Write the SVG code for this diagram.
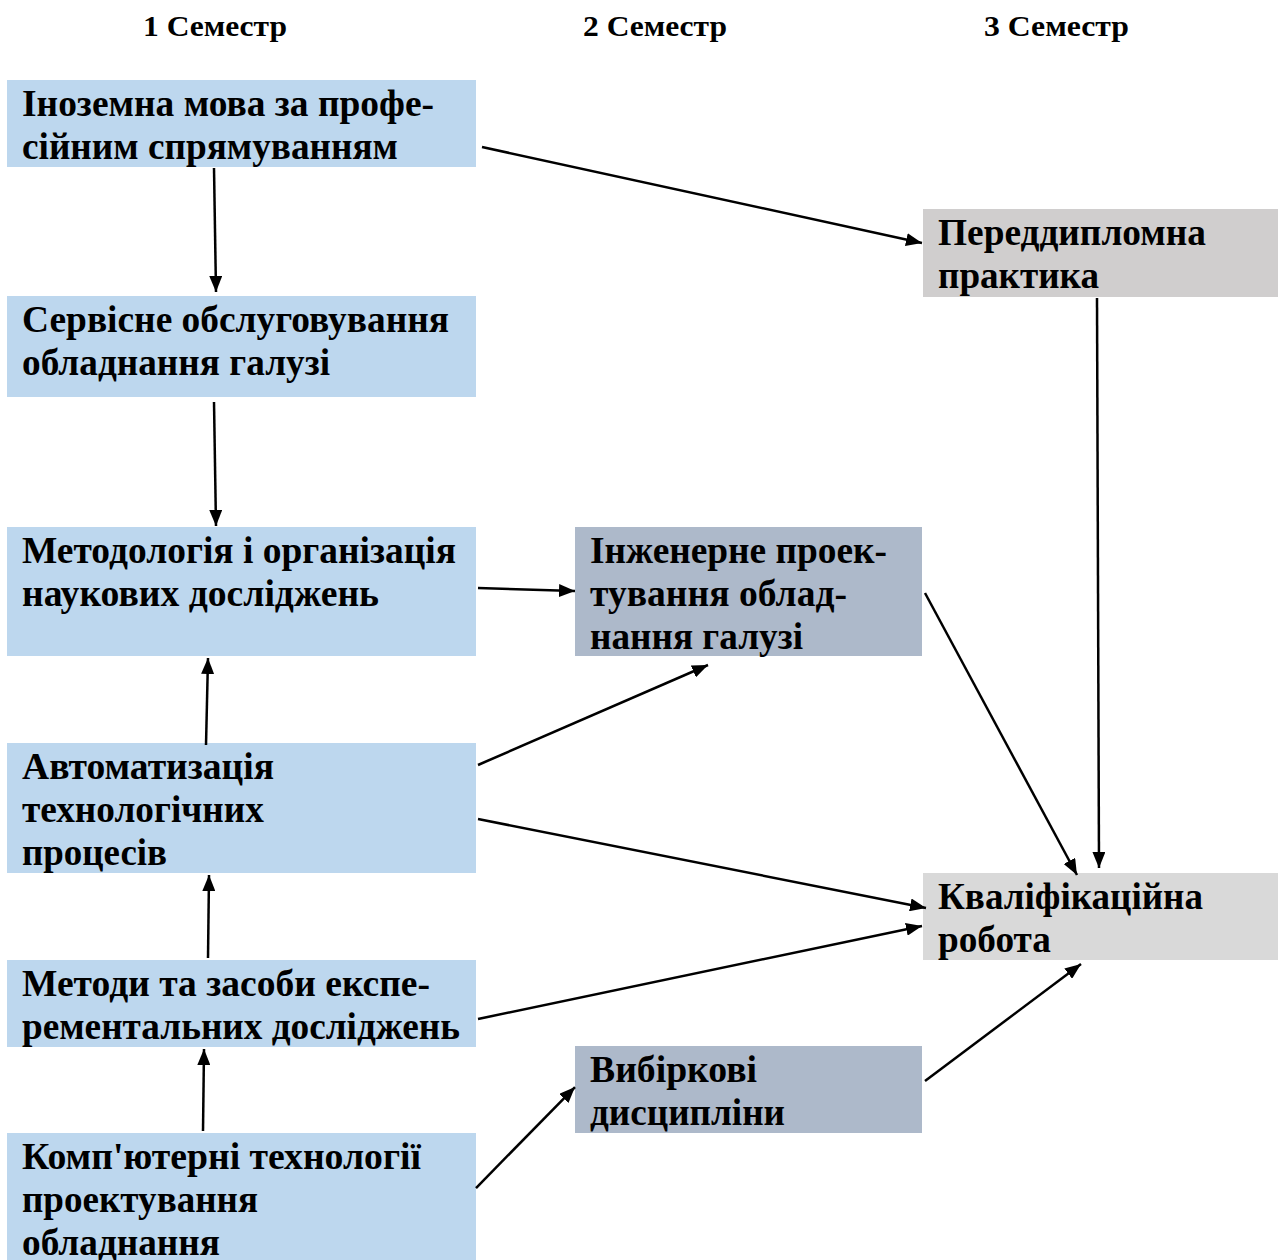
<svg xmlns="http://www.w3.org/2000/svg" width="1279" height="1260" viewBox="0 0 1279 1260">
<style>
text{font-family:"Liberation Serif","Times New Roman",serif;font-weight:bold;fill:#000}
.t{font-size:37px}
.h{font-size:30px}
.c1{fill:#BDD7EE}
.c2{fill:#ADB9CA}
.c3{fill:#D0CECE}
.c4{fill:#D9D9D9}
.ln{stroke:#000;stroke-width:2.5;fill:none;marker-end:url(#ah)}
</style>
<defs>
<marker id="ah" markerUnits="userSpaceOnUse" markerWidth="17" markerHeight="13" refX="16" refY="6.5" orient="auto">
<path d="M0,0 L16,6.5 L0,13 z" fill="#000"/>
</marker>
</defs>
<rect width="1279" height="1260" fill="#fff"/>
<g id="headers">
<text class="h" x="143" y="36" textLength="144" lengthAdjust="spacingAndGlyphs">1 Семестр</text>
<text class="h" x="583" y="36" textLength="144" lengthAdjust="spacingAndGlyphs">2 Семестр</text>
<text class="h" x="984" y="36" textLength="145" lengthAdjust="spacingAndGlyphs">3 Семестр</text>
</g>
<g id="n1">
<rect class="c1" x="7" y="80" width="469" height="87"/>
<text class="t" x="22" y="116" textLength="412" lengthAdjust="spacingAndGlyphs">Іноземна мова за профе-</text>
<text class="t" x="22" y="159" textLength="376" lengthAdjust="spacingAndGlyphs">сійним спрямуванням</text>
</g>
<g id="n2">
<rect class="c1" x="7" y="296" width="469" height="101"/>
<text class="t" x="22" y="332" textLength="427" lengthAdjust="spacingAndGlyphs">Сервісне обслуговування</text>
<text class="t" x="22" y="375" textLength="308" lengthAdjust="spacingAndGlyphs">обладнання галузі</text>
</g>
<g id="n3">
<rect class="c1" x="7" y="527" width="469" height="129"/>
<text class="t" x="22" y="563" textLength="434" lengthAdjust="spacingAndGlyphs">Методологія і організація</text>
<text class="t" x="22" y="606" textLength="357" lengthAdjust="spacingAndGlyphs">наукових досліджень</text>
</g>
<g id="n4">
<rect class="c1" x="7" y="743" width="469" height="130"/>
<text class="t" x="22" y="779" textLength="252" lengthAdjust="spacingAndGlyphs">Автоматизація</text>
<text class="t" x="22" y="822" textLength="242" lengthAdjust="spacingAndGlyphs">технологічних</text>
<text class="t" x="22" y="865" textLength="145" lengthAdjust="spacingAndGlyphs">процесів</text>
</g>
<g id="n5">
<rect class="c1" x="7" y="960" width="469" height="87"/>
<text class="t" x="22" y="996" textLength="408" lengthAdjust="spacingAndGlyphs">Методи та засоби експе-</text>
<text class="t" x="22" y="1039" textLength="438" lengthAdjust="spacingAndGlyphs">рементальних досліджень</text>
</g>
<g id="n6">
<rect class="c1" x="7" y="1133" width="469" height="127"/>
<text class="t" x="22" y="1169" textLength="399" lengthAdjust="spacingAndGlyphs">Комп'ютерні технології</text>
<text class="t" x="22" y="1212" textLength="236" lengthAdjust="spacingAndGlyphs">проектування</text>
<text class="t" x="22" y="1255" textLength="198" lengthAdjust="spacingAndGlyphs">обладнання</text>
</g>
<g id="n7">
<rect class="c2" x="575" y="527" width="347" height="129"/>
<text class="t" x="590" y="563" textLength="297" lengthAdjust="spacingAndGlyphs">Інженерне проек-</text>
<text class="t" x="590" y="606" textLength="257" lengthAdjust="spacingAndGlyphs">тування облад-</text>
<text class="t" x="590" y="649" textLength="213" lengthAdjust="spacingAndGlyphs">нання галузі</text>
</g>
<g id="n8">
<rect class="c2" x="575" y="1046" width="347" height="87"/>
<text class="t" x="590" y="1082" textLength="167" lengthAdjust="spacingAndGlyphs">Вибіркові</text>
<text class="t" x="590" y="1125" textLength="195" lengthAdjust="spacingAndGlyphs">дисципліни</text>
</g>
<g id="n9">
<rect class="c3" x="923" y="209" width="355" height="88"/>
<text class="t" x="938" y="245" textLength="268" lengthAdjust="spacingAndGlyphs">Переддипломна</text>
<text class="t" x="938" y="288" textLength="161" lengthAdjust="spacingAndGlyphs">практика</text>
</g>
<g id="n10">
<rect class="c4" x="923" y="873" width="355" height="87"/>
<text class="t" x="938" y="909" textLength="265" lengthAdjust="spacingAndGlyphs">Кваліфікаційна</text>
<text class="t" x="938" y="952" textLength="113" lengthAdjust="spacingAndGlyphs">робота</text>
</g>
<g id="connectors">
<line class="ln" x1="214" y1="168" x2="216" y2="292"/>
<line class="ln" x1="214" y1="402" x2="216" y2="526"/>
<line class="ln" x1="206" y1="745" x2="208" y2="658"/>
<line class="ln" x1="208" y1="958" x2="209" y2="875"/>
<line class="ln" x1="203" y1="1131" x2="204" y2="1049"/>
<line class="ln" x1="478" y1="588" x2="575" y2="591"/>
<line class="ln" x1="478" y1="765" x2="708" y2="665"/>
<line class="ln" x1="482" y1="147" x2="922" y2="243"/>
<line class="ln" x1="1097" y1="298" x2="1099" y2="868"/>
<line class="ln" x1="925" y1="593" x2="1077" y2="875"/>
<line class="ln" x1="478" y1="819" x2="926" y2="908"/>
<line class="ln" x1="478" y1="1019" x2="922" y2="926"/>
<line class="ln" x1="925" y1="1081" x2="1081" y2="964"/>
<line class="ln" x1="476" y1="1188" x2="575" y2="1087"/>
</g>
</svg>
